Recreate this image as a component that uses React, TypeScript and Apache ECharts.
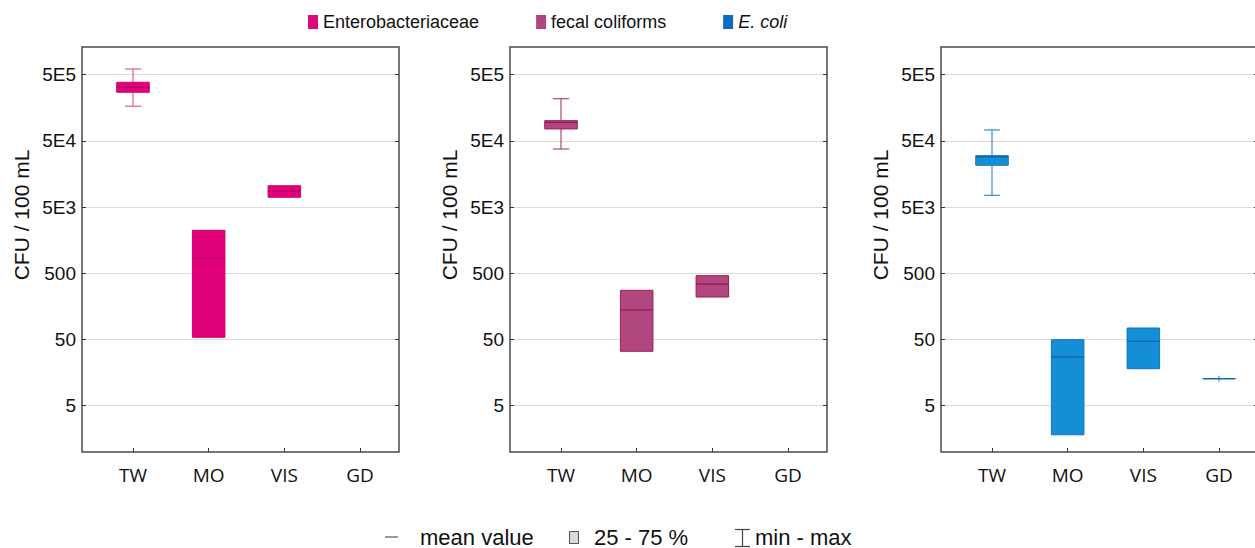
import React, { useEffect, useRef } from 'react';
import * as echarts from 'echarts';

const categories = ['TW', 'MO', 'VIS', 'GD'];
const categoryPos = [1, 2, 3, 4];
const tickValues = [5, 50, 500, 5000, 50000, 500000];
const tickLabels = ['5', '50', '500', '5E3', '5E4', '5E5'];
const seriesNames = ['Enterobacteriaceae', 'fecal coliforms', 'E. coli'];
const bottomLegendLabels = ['mean value', '25 - 75 %', 'min - max'];

// per category: [min, q1, mean, q3, max] in CFU / 100 mL (null = no data)
const enteroStats = [
  [1.67e5, 2.71e5, 3.23e5, 3.84e5, 6.1e5],
  [54, 54, 843, 2230, 2230],
  [7030, 7030, 8750, 10520, 10520],
  null,
];
const fecalStats = [
  [3.77e4, 7.57e4, 9.55e4, 1.01e5, 2.17e5],
  [33.2, 33.2, 140, 277, 277],
  [219, 219, 344, 460, 460],
  null,
];
const ecoliStats = [
  [7530, 2.14e4, 2.88e4, 2.99e4, 7.31e4],
  [1.82, 1.82, 27.2, 49.7, 49.7],
  [18.1, 18.1, 47, 74.6, 74.6],
  [11.5, 12.8, 12.8, 12.8, 14.2],
];
const allStats = [enteroStats, fecalStats, ecoliStats];

const colors = [
  { fill: '#E0007A', border: '#D2006E', mean: '#B8005F', whisker: '#DE5F8C', legend: '#E0077A' },
  { fill: '#B0477E', border: '#A01A5B', mean: '#9A1555', whisker: '#B0477E', legend: '#B0467E' },
  { fill: '#148FD6', border: '#1273C2', mean: '#0E65AE', whisker: '#3C8ED2', legend: '#0E6CC0' },
];

const FONT = '"Liberation Sans", Arial, sans-serif';
const CAT_FONT = '"Open Sans", "Liberation Sans", sans-serif';
const BOX_W = 0.43;
const Y_MIN = 0;
const Y_MAX = 6.117;
const X_MIN = 0.326;
const X_MAX = 4.515;
const gridLefts = [82, 510, 941];

const tickLogs = tickValues.map((v) => Math.log10(v));

const makeRender = (c: any) => (params: any, api: any) => {
  const x = api.value(0);
  const mn = api.value(1), q1 = api.value(2), mean = api.value(3), q3 = api.value(4), mx = api.value(5);
  const w = api.size([BOX_W, 0])[0];
  const cap = w * 0.5;
  const pq3 = api.coord([x, q3]);
  const cx = pq3[0];
  const yq3 = pq3[1];
  const yq1 = api.coord([x, q1])[1];
  const ym = api.coord([x, mean])[1];
  const ymax = api.coord([x, mx])[1];
  const ymin = api.coord([x, mn])[1];
  const children: any[] = [];
  const ws = { stroke: c.whisker, lineWidth: 1.2 };
  if (ymax < yq3 - 0.5) {
    children.push({ type: 'line', shape: { x1: cx, y1: ymax, x2: cx, y2: yq3 }, style: ws });
    if (yq3 - ymax > 4) children.push({ type: 'line', shape: { x1: cx - cap / 2, y1: ymax, x2: cx + cap / 2, y2: ymax }, style: ws });
  }
  if (ymin > yq1 + 0.5) {
    children.push({ type: 'line', shape: { x1: cx, y1: yq1, x2: cx, y2: ymin }, style: ws });
    if (ymin - yq1 > 4) children.push({ type: 'line', shape: { x1: cx - cap / 2, y1: ymin, x2: cx + cap / 2, y2: ymin }, style: ws });
  }
  children.push({
    type: 'rect',
    shape: { x: cx - w / 2, y: yq3, width: w, height: Math.max(yq1 - yq3, 0) },
    style: { fill: c.fill, stroke: c.border, lineWidth: 1 },
  });
  children.push({
    type: 'line',
    shape: { x1: cx - w / 2, y1: ym, x2: cx + w / 2, y2: ym },
    style: { stroke: c.mean, lineWidth: 1.3 },
  });
  return { type: 'group', children };
};

export default function App() {
  const ref = useRef<HTMLDivElement>(null);
  useEffect(() => {
    if (!ref.current) return;
    const chart = echarts.init(ref.current, null, { renderer: 'svg' });

    const grids = gridLefts.map((left) => ({
      left, top: 47, width: 317, height: 405, show: true,
      borderColor: '#4a4a4a', borderWidth: 1.5, backgroundColor: 'transparent',
    }));

    const xAxes = gridLefts.map((_, i) => ({
      type: 'value', gridIndex: i, min: X_MIN, max: X_MAX,
      axisLine: { show: false },
      splitLine: { show: false },
      axisTick: { show: true, inside: true, length: 4, customValues: categoryPos, lineStyle: { color: '#333' } },
      axisLabel: {
        customValues: categoryPos, margin: 13, fontSize: 19, fontFamily: CAT_FONT, color: '#111',
        formatter: (v: number) => categories[categoryPos.indexOf(Math.round(v))] ?? '',
      },
    }));

    const labelFor = (v: number) => {
      const idx = tickLogs.findIndex((t) => Math.abs(t - v) < 1e-6);
      return idx >= 0 ? tickLabels[idx] : '';
    };

    const yLeft = gridLefts.map((_, i) => ({
      type: 'value', gridIndex: i, min: Y_MIN, max: Y_MAX, position: 'left',
      name: 'CFU / 100 mL', nameLocation: 'middle', nameGap: 50,
      nameTextStyle: { fontSize: 21, fontFamily: FONT, color: '#111', padding: [0, 0, 0, 69] },
      axisLine: { show: false },
      splitLine: { show: true, lineStyle: { color: '#dcdcdc', width: 1 } },
      axisTick: { show: true, inside: true, length: 4, customValues: tickLogs, lineStyle: { color: '#333' } },
      axisLabel: { customValues: tickLogs, margin: 6, fontSize: 19, fontFamily: FONT, color: '#111', formatter: labelFor },
    }));
    const yRight = gridLefts.map((_, i) => ({
      type: 'value', gridIndex: i, min: Y_MIN, max: Y_MAX, position: 'right',
      axisLine: { show: false },
      splitLine: { show: false },
      axisTick: { show: true, inside: true, length: 4, customValues: tickLogs, lineStyle: { color: '#333' } },
      axisLabel: { show: false },
    }));

    const series = allStats.map((stats, i) => ({
      type: 'custom',
      name: seriesNames[i],
      xAxisIndex: i,
      yAxisIndex: i,
      itemStyle: { color: colors[i].legend },
      renderItem: makeRender(colors[i]),
      encode: { x: 0, y: [1, 2, 3, 4, 5] },
      data: stats
        .map((s, k) => (s ? [categoryPos[k], ...s.map((v) => Math.log10(v))] : null))
        .filter((d) => d !== null),
    }));

    const bFont = `22px ${FONT}`;
    const by = 537;
    const graphic = [
      { type: 'line', shape: { x1: 385, y1: by, x2: 398, y2: by }, style: { stroke: '#555', lineWidth: 1.2 } },
      { type: 'text', x: 420, y: by, style: { text: bottomLegendLabels[0], font: bFont, fill: '#111', verticalAlign: 'middle' } },
      { type: 'rect', shape: { x: 569.5, y: 531.5, width: 9, height: 12 }, style: { fill: '#d9d9d9', stroke: '#555', lineWidth: 1 } },
      { type: 'text', x: 594, y: by, style: { text: bottomLegendLabels[1], font: bFont, fill: '#111', verticalAlign: 'middle' } },
      { type: 'line', shape: { x1: 735, y1: 529.5, x2: 750, y2: 529.5 }, style: { stroke: '#444', lineWidth: 1.2 } },
      { type: 'line', shape: { x1: 742.5, y1: 529.5, x2: 742.5, y2: 546.5 }, style: { stroke: '#444', lineWidth: 1.2 } },
      { type: 'line', shape: { x1: 735, y1: 546.5, x2: 750, y2: 546.5 }, style: { stroke: '#444', lineWidth: 1.2 } },
      { type: 'text', x: 755, y: by, style: { text: bottomLegendLabels[2], font: bFont, fill: '#111', verticalAlign: 'middle' } },
    ];

    chart.setOption({
      animation: false,
      backgroundColor: '#ffffff',
      grid: grids,
      xAxis: xAxes,
      yAxis: [...yLeft, ...yRight],
      legend: {
        left: 303, top: 8, itemWidth: 10, itemHeight: 14, itemGap: 57, icon: 'rect',
        selectedMode: false,
        textStyle: {
          fontSize: 18, fontFamily: FONT, color: '#111',
          rich: { it: { fontStyle: 'italic', fontSize: 18, fontFamily: FONT, color: '#111' } },
        },
        formatter: (n: string) => (n === 'E. coli' ? '{it|E.} {it|coli}' : n),
        data: seriesNames.map((n, i) => ({ name: n, itemStyle: { color: colors[i].legend } })),
      },
      graphic,
      series,
    });
    return () => chart.dispose();
  }, []);

  return (
    <div style={{ position: 'fixed', left: 0, top: 0, width: 1255, height: 548, overflow: 'hidden', background: '#fff' }}>
      <div ref={ref} style={{ width: 1262, height: 548 }} />
    </div>
  );
}
